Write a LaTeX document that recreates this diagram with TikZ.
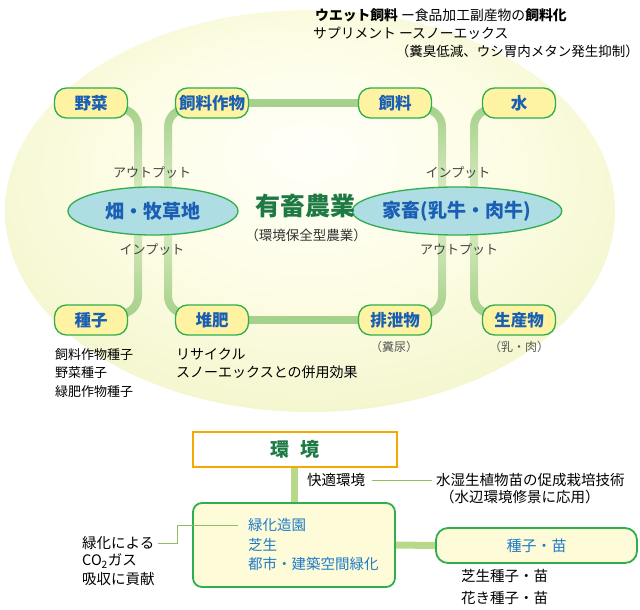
\documentclass[tikz,border=0pt]{standalone}
\usepackage{fontspec}
\setmainfont{Noto Sans CJK JP}
\usetikzlibrary{shapes.geometric,calc,fadings}
\definecolor{boxgreen}{HTML}{2FAE4E}
\definecolor{boxyellow}{HTML}{FDF3A2}
\definecolor{paleyellow}{HTML}{FDFBD8}
\definecolor{nodeblue}{HTML}{1A5FB4}
\definecolor{lightblue}{HTML}{1F7AC8}
\definecolor{ellfill}{HTML}{AEDDE4}
\definecolor{conncol}{HTML}{A6D18C}
\definecolor{conncolb}{HTML}{B8D98A}
\definecolor{darkgreen}{HTML}{1D7A45}
\definecolor{kankyoorange}{HTML}{F5A800}
\definecolor{thingreen}{HTML}{8CC05A}
\definecolor{graytext}{HTML}{444444}
\definecolor{bgA}{HTML}{FFFFFA}
\definecolor{bgB}{HTML}{FDFDE6}
\definecolor{bgC}{HTML}{F0F3C4}
\definecolor{bgD}{HTML}{DFE8AE}
\pgfdeclareradialshading{bigglow}{\pgfpoint{0bp}{8bp}}{color(0bp)=(bgA); color(15bp)=(bgB); color(35bp)=(bgC); color(50bp)=(bgD)}
\tikzfading[name=fadedown, top color=transparent!0, bottom color=transparent!70]
\tikzfading[name=fadeup, top color=transparent!70, bottom color=transparent!0]
\pgfdeclarelayer{bg}
\pgfdeclarelayer{mid}
\pgfsetlayers{bg,mid,main}
\newcommand{\fs}[1]{\fontsize{#1}{#1}\selectfont}
\tikzset{
  ybox/.style={draw=boxgreen, line width=1.3pt, fill=boxyellow, rounded corners=12pt,
    minimum width=73pt, minimum height=30pt, inner sep=0pt, text=nodeblue, font=\fs{16.5}\bfseries},
  ell/.style={ellipse, draw=boxgreen, line width=1.3pt, fill=ellfill, minimum width=170pt,
    minimum height=48pt, inner sep=0pt, text=nodeblue, font=\fs{19}\bfseries},
  conn/.style={line width=8pt, draw=conncol, rounded corners=18pt},
  conn2/.style={line width=7pt, draw=conncolb},
  thinline/.style={line width=1pt, draw=thingreen},
  lbl/.style={inner sep=0pt, font=\fs{13}, text=graytext},
  txt/.style={inner sep=0pt, font=\fs{13}, text=black, anchor=west},
  btxt/.style={inner sep=0pt, font=\fs{14.5}, text=black, anchor=west},
  bluetxt/.style={inner sep=0pt, font=\fs{14.5}, text=lightblue, anchor=west},
  gbox/.style={draw=boxgreen, line width=1.8pt, fill=paleyellow, inner sep=0pt},
}
\begin{document}
\begin{tikzpicture}[x=1pt,y=-1pt]
\useasboundingbox (0,0) rectangle (640,610);
\begin{pgfonlayer}{bg}
\shade[shading=bigglow] (310,211) ellipse [x radius=305, y radius=201];
\end{pgfonlayer}

% top texts
\node[txt, font=\fs{13.8}] (t1) at (315,15) {\textbf{ウエット飼料} ー食品加工副産物の\textbf{飼料化}};
\node[txt, font=\fs{13.8}] (t2) at (313,33) {サプリメント ースノーエックス};
\node[txt, font=\fs{13.5}, anchor=east] (t3) at (639,51) {（糞臭低減、ウシ胃内メタン発生抑制）};

% row 1
\node[ybox] (yasai) at (91,103) {野菜};
\node[ybox] (sakumotsu) at (212,103) {飼料作物};
\node[ybox] (shiryo) at (395,103) {飼料};
\node[ybox] (mizu) at (519,103) {水};

% ellipses
\node[ell] (hatake) at (153,211) {畑・牧草地};
\node[ell] (kachiku) at (457,211) {家畜(乳牛・肉牛)};
\node[inner sep=0pt, font=\fs{25}\bfseries, text=darkgreen] (yuchiku) at (305,206) {有畜農業};
\node[inner sep=0pt, font=\fs{13.5}, text=black!80] (hozen) at (306,235) {（環境保全型農業）};

\node[lbl] (out1) at (152,173) {アウトプット};
\node[lbl] (in1) at (458,173) {インプット};
\node[lbl] (in2) at (152,250) {インプット};
\node[lbl] (out2) at (459,250) {アウトプット};

% row 2
\node[ybox] (tane) at (91,320) {種子};
\node[ybox] (taihi) at (212,320) {堆肥};
\node[ybox] (haisetsu) at (395,320) {排泄物};
\node[ybox] (seisan) at (519,320) {生産物};
\node[lbl, font=\fs{12}, text=black!65] (funnyo) at (394,347) {（糞尿）};
\node[lbl, font=\fs{12}, text=black!65] (nyuniku) at (519,347) {（乳・肉）};

\node[txt] (s1) at (55,355) {飼料作物種子};
\node[txt] (s2) at (55,373) {野菜種子};
\node[txt] (s3) at (55,392) {緑肥作物種子};
\node[txt, font=\fs{14}] (r1) at (176,354) {リサイクル};
\node[txt, font=\fs{14}] (r2) at (176,372) {スノーエックスとの併用効果};

\begin{pgfonlayer}{mid}
\draw[conn, path fading=fadedown] ([yshift=-6pt]yasai.center) -| ([xshift=-15pt]hatake.center);
\draw[conn, path fading=fadedown] ([yshift=-6pt]sakumotsu.center) -| ([xshift=15pt]hatake.center);
\draw[conn, path fading=fadedown] ([yshift=-6pt]shiryo.center) -| ([xshift=-15pt]kachiku.center);
\draw[conn, path fading=fadedown] ([yshift=-6pt]mizu.center) -| ([xshift=17pt]kachiku.center);
\draw[conn, path fading=fadeup] ([yshift=6pt]tane.center) -| ([xshift=-15pt]hatake.center);
\draw[conn, path fading=fadeup] ([yshift=6pt]taihi.center) -| ([xshift=15pt]hatake.center);
\draw[conn, path fading=fadeup] ([yshift=6pt]haisetsu.center) -| ([xshift=-15pt]kachiku.center);
\draw[conn, path fading=fadeup] ([yshift=6pt]seisan.center) -| ([xshift=17pt]kachiku.center);
\draw[conn] (sakumotsu) -- (shiryo);
\draw[conn] (taihi) -- (haisetsu);
\end{pgfonlayer}

% bottom section
\node[draw=kankyoorange, line width=2pt, fill=white, minimum width=204pt, minimum height=35pt,
  inner sep=0pt, font=\fs{19}\bfseries, text=darkgreen] (kankyo) at (295,449.5) {環\hspace{0.6em}境};
\node[gbox, rounded corners=9pt, minimum width=202pt, minimum height=84pt] (ryokka) at (294,545) {};
\node[gbox, rounded corners=12pt, minimum width=201pt, minimum height=35pt,
  font=\fs{15}, text=lightblue] (tanenae) at (536.5,545.5) {種子・苗};

\begin{pgfonlayer}{mid}
\draw[conn2] (kankyo.south -| 294,0) -- (ryokka.north -| 294,0);
\draw[conn2] (ryokka.east) -- (tanenae.west);
\end{pgfonlayer}

\node[btxt] (kaiteki) at (307,480) {快適環境};
\node[btxt] (suishitsu) at (436,480) {水湿生植物苗の促成栽培技術};
\node[btxt] (suihen) at (440,497) {（水辺環境修景に応用）};
\draw[thinline] ([xshift=7pt]kaiteki.east) -- ([xshift=-4pt]suishitsu.west);

\node[bluetxt] (g1) at (248,525) {緑化造園};
\node[bluetxt] (g2) at (248,545) {芝生};
\node[bluetxt] (g3) at (248,564) {都市・建築空間緑化};

\node[btxt] (c1) at (82,543) {緑化による};
\node[btxt] (c2) at (82,561) {CO\textsubscript{2}ガス};
\node[btxt] (c3) at (82,579) {吸収に貢献};
\draw[thinline] ([xshift=-10pt]g1.west) -- ++(-61,0) |- ([xshift=4pt]c1.east);

\node[btxt] (n1) at (461,576) {芝生種子・苗};
\node[btxt] (n2) at (461,598) {花き種子・苗};
\end{tikzpicture}
\end{document}
